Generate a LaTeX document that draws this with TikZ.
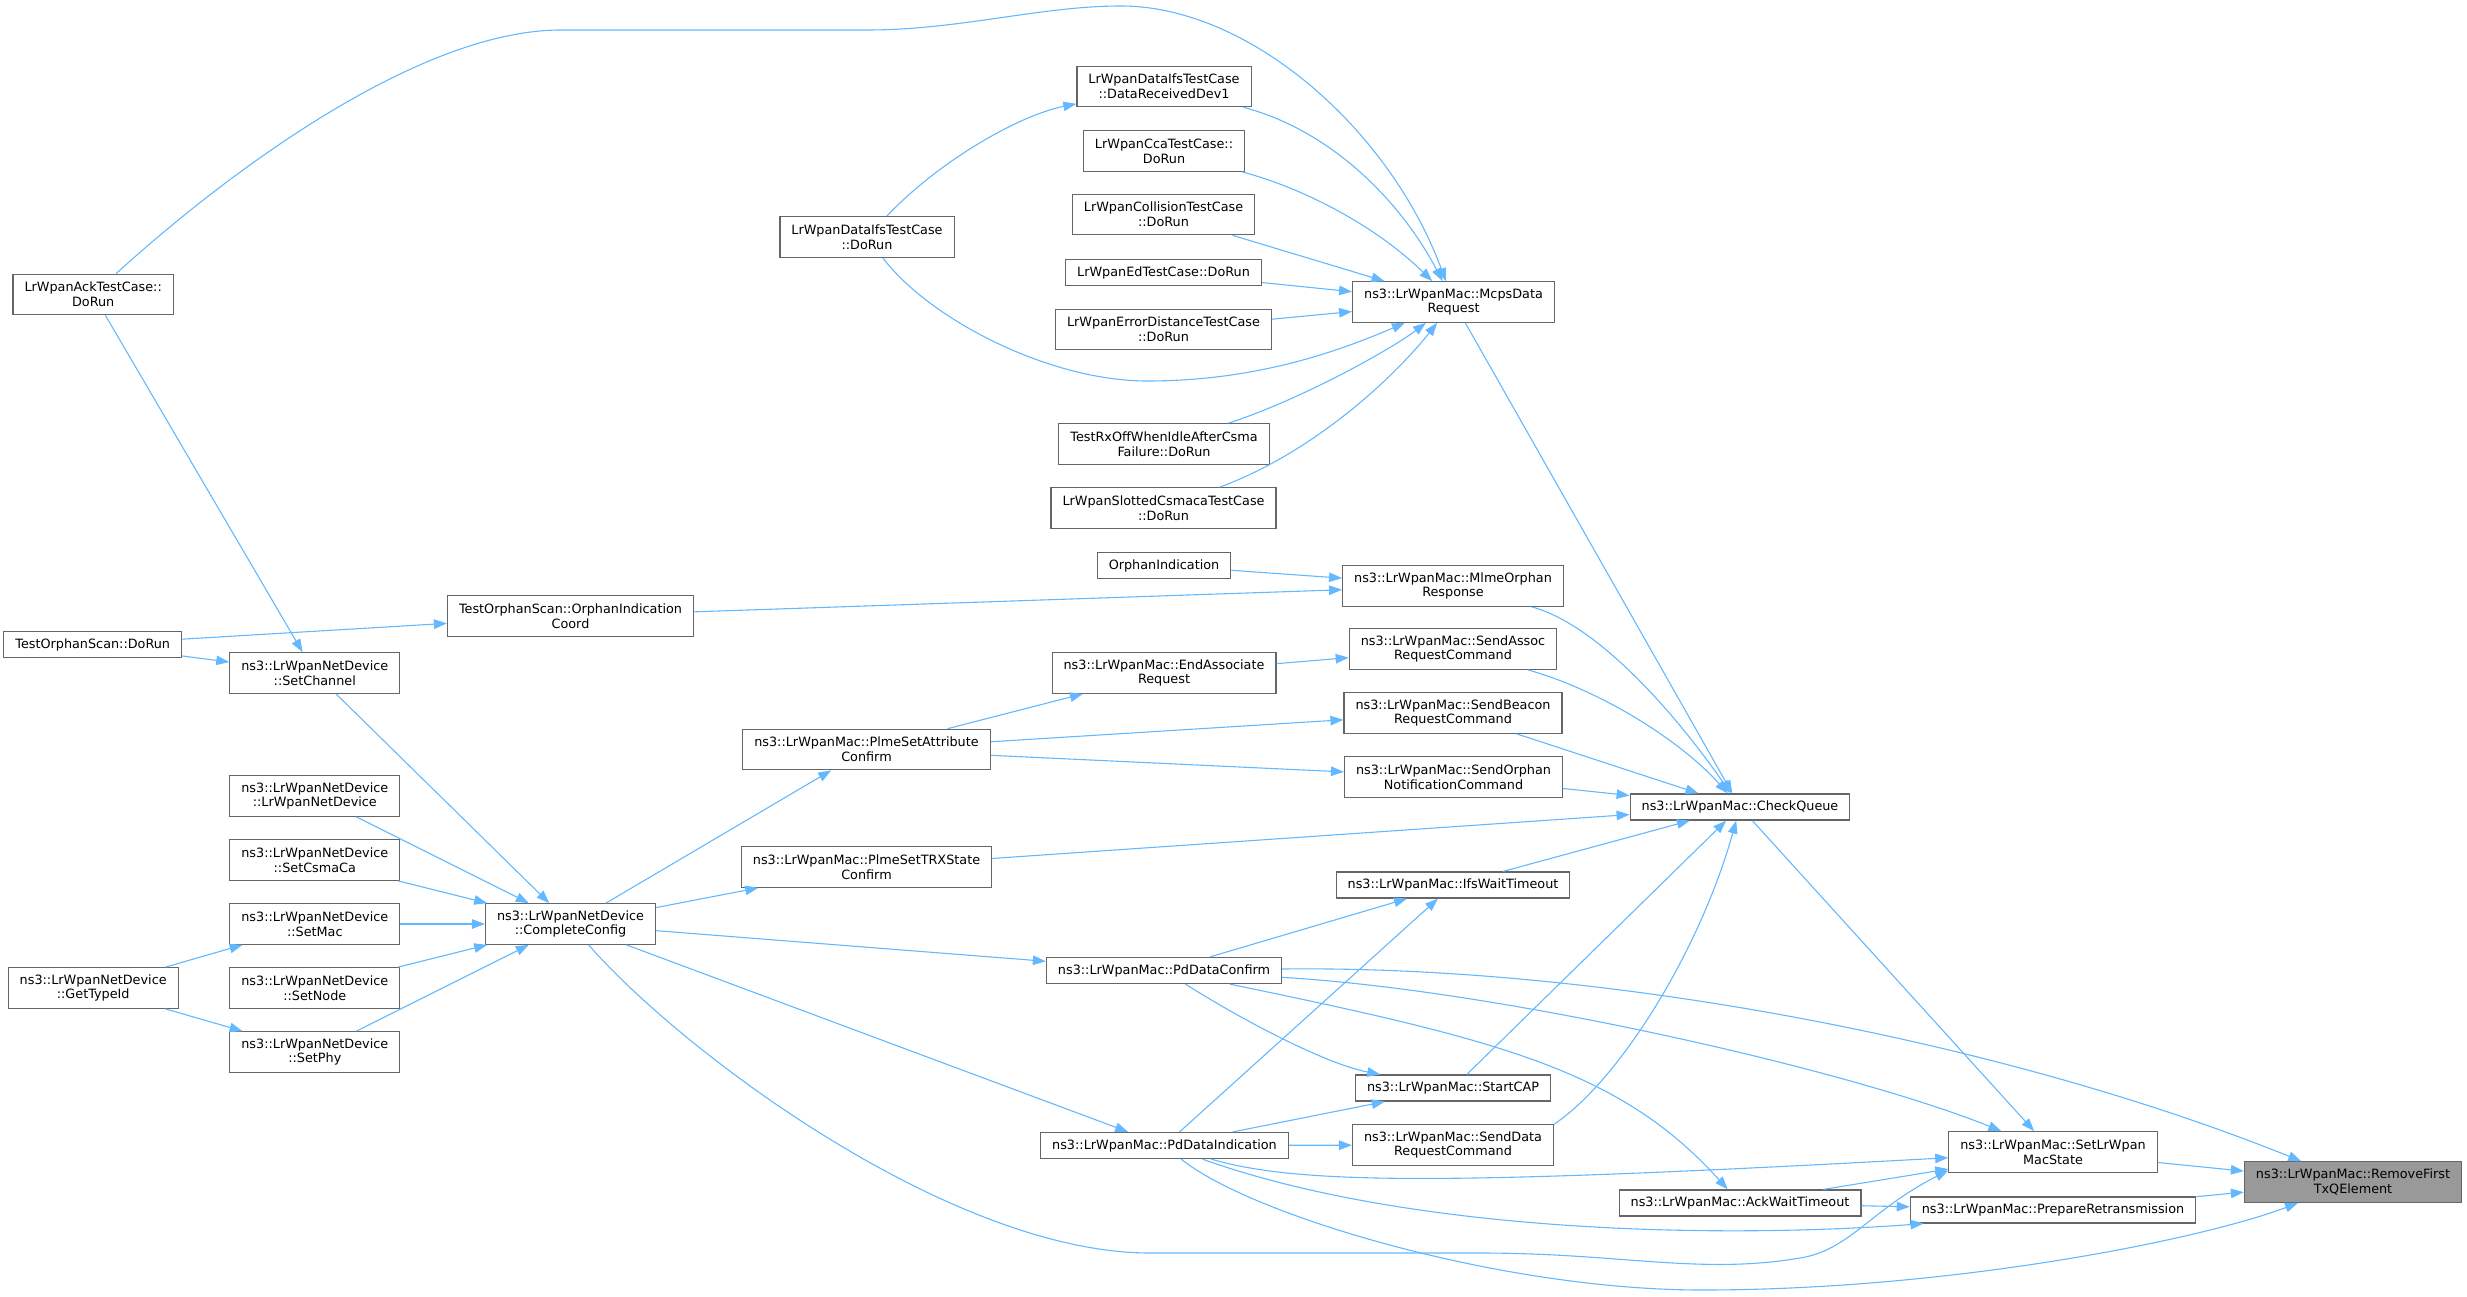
\documentclass[tikz,border=0pt]{standalone}
\usepackage{fontspec}
\setmainfont{DejaVu Sans}
\usetikzlibrary{arrows.meta}
\definecolor{edgeblue}{HTML}{63B8FF}
\definecolor{boxline}{HTML}{666666}
\definecolor{rootfill}{HTML}{999999}
\begin{document}
\begin{tikzpicture}[x=1pt,y=-1pt]
\tikzstyle{every node}+=[font=\fontsize{12.8}{14.7}\selectfont]
\tikzstyle{fn}=[draw=boxline, fill=white, line width=1.2pt, inner xsep=11.5pt, inner ysep=2pt, minimum height=26pt, align=center]
\tikzstyle{fn2}=[fn, minimum height=40.5pt]
\tikzstyle{root}=[fn2, fill=rootfill]
\tikzstyle{callarrow}=[draw=edgeblue, line width=1.1pt, -{Triangle[length=13pt,width=9.5pt]}]
\useasboundingbox (0,0) rectangle (2467,1297);
\node[fn2] (ackrun) at (93.2,294.5) {LrWpanAckTestCase::\\DoRun};
\node[fn2] (ifsrun) at (867,237) {LrWpanDataIfsTestCase\\::DoRun};
\node[fn2] (orcoord) at (570.5,616) {TestOrphanScan::OrphanIndication\\Coord};
\node[fn] (orrun) at (92.7,644.5) {TestOrphanScan::DoRun};
\node[fn2] (setchan) at (314.8,673) {ns3::LrWpanNetDevice\\::SetChannel};
\node[fn2] (devctor) at (314.8,796) {ns3::LrWpanNetDevice\\::LrWpanNetDevice};
\node[fn2] (setcsma) at (314.8,860) {ns3::LrWpanNetDevice\\::SetCsmaCa};
\node[fn2] (setmac) at (314.8,924) {ns3::LrWpanNetDevice\\::SetMac};
\node[fn2] (setnode) at (314.8,988) {ns3::LrWpanNetDevice\\::SetNode};
\node[fn2] (setphy) at (314.8,1052) {ns3::LrWpanNetDevice\\::SetPhy};
\node[fn2] (typeid) at (93.2,988) {ns3::LrWpanNetDevice\\::GetTypeId};
\node[fn2] (cc) at (570.5,924) {ns3::LrWpanNetDevice\\::CompleteConfig};
\node[fn2] (psattr) at (866.5,749.5) {ns3::LrWpanMac::PlmeSetAttribute\\Confirm};
\node[fn2] (pstrx) at (866.5,867) {ns3::LrWpanMac::PlmeSetTRXState\\Confirm};
\node[fn2] (dev1) at (1164,86.5) {LrWpanDataIfsTestCase\\::DataReceivedDev1};
\node[fn2] (ccarun) at (1164,151) {LrWpanCcaTestCase::\\DoRun};
\node[fn2] (collrun) at (1163.5,214.5) {LrWpanCollisionTestCase\\::DoRun};
\node[fn] (edrun) at (1163.5,272.5) {LrWpanEdTestCase::DoRun};
\node[fn2] (errrun) at (1163.5,329.5) {LrWpanErrorDistanceTestCase\\::DoRun};
\node[fn2] (mdr) at (1453.5,302) {ns3::LrWpanMac::McpsData\\Request};
\node[fn2] (rxoff) at (1164,444) {TestRxOffWhenIdleAfterCsma\\Failure::DoRun};
\node[fn2] (slotrun) at (1163.5,508) {LrWpanSlottedCsmacaTestCase\\::DoRun};
\node[fn] (orind) at (1164,565.5) {OrphanIndication};
\node[fn2] (mor) at (1453,586) {ns3::LrWpanMac::MlmeOrphan\\Response};
\node[fn2] (sassoc) at (1453,649) {ns3::LrWpanMac::SendAssoc\\RequestCommand};
\node[fn2] (endassoc) at (1164,673) {ns3::LrWpanMac::EndAssociate\\Request};
\node[fn2] (sbeacon) at (1453,713) {ns3::LrWpanMac::SendBeacon\\RequestCommand};
\node[fn2] (sorphan) at (1453.5,777) {ns3::LrWpanMac::SendOrphan\\NotificationCommand};
\node[fn] (cq) at (1740,807) {ns3::LrWpanMac::CheckQueue};
\node[fn] (ifs) at (1453,885) {ns3::LrWpanMac::IfsWaitTimeout};
\node[fn] (pdc) at (1164,970.5) {ns3::LrWpanMac::PdDataConfirm};
\node[fn] (cap) at (1453,1088) {ns3::LrWpanMac::StartCAP};
\node[fn] (pdi) at (1164.5,1145.5) {ns3::LrWpanMac::PdDataIndication};
\node[fn2] (sdata) at (1453,1145) {ns3::LrWpanMac::SendData\\RequestCommand};
\node[fn] (ackwait) at (1740,1203) {ns3::LrWpanMac::AckWaitTimeout};
\node[fn2] (sls) at (2053,1152) {ns3::LrWpanMac::SetLrWpan\\MacState};
\node[fn] (prep) at (2053,1210) {ns3::LrWpanMac::PrepareRetransmission};
\node[root] (rm) at (2353,1182) {ns3::LrWpanMac::RemoveFirst\\TxQElement};
\draw[callarrow] (ackrun) .. controls (230,170) and (420,30) .. (561,30) -- (867,30) .. controls (960,30) and (1040,6) .. (1121,6) .. controls (1250,6) and (1390,130) .. (mdr);
\draw[callarrow] (ackrun) -- (setchan);
\draw[callarrow] (ifsrun) .. controls (940,160) and (1020,115) .. (dev1);
\draw[callarrow] (ifsrun) .. controls (930,320) and (1050,381) .. (1147,381) .. controls (1250,381) and (1330,355) .. (mdr);
\draw[callarrow] (dev1) .. controls (1330,130) and (1400,200) .. (mdr);
\draw[callarrow] (ccarun) .. controls (1310,190) and (1380,230) .. (mdr);
\draw[callarrow] (collrun) -- (mdr);
\draw[callarrow] (edrun) -- (mdr);
\draw[callarrow] (errrun) -- (mdr);
\draw[callarrow] (rxoff) .. controls (1300,400) and (1390,350) .. (mdr);
\draw[callarrow] (slotrun) .. controls (1320,450) and (1400,370) .. (mdr);
\draw[callarrow] (mdr) -- (cq);
\draw[callarrow] (orind) -- (mor);
\draw[callarrow] (orcoord) -- (mor);
\draw[callarrow] (orrun) -- (orcoord);
\draw[callarrow] (orrun) -- (setchan);
\draw[callarrow] (setchan) -- (cc);
\draw[callarrow] (devctor) -- (cc);
\draw[callarrow] (setcsma) -- (cc);
\draw[callarrow] (setmac) -- (cc);
\draw[callarrow] (setnode) -- (cc);
\draw[callarrow] (setphy) -- (cc);
\draw[callarrow] (typeid) -- (setmac);
\draw[callarrow] (typeid) -- (setphy);
\draw[callarrow] (cc) -- (psattr);
\draw[callarrow] (cc) -- (pstrx);
\draw[callarrow] (cc) -- (pdc);
\draw[callarrow] (cc) -- (pdi);
\draw[callarrow] (cc) .. controls (680,1050) and (950,1253) .. (1150,1253) -- (1480,1253) .. controls (1620,1253) and (1700,1275) .. (1800,1258) .. controls (1850,1250) and (1870,1210) .. (sls.190);
\draw[callarrow] (psattr) -- (endassoc);
\draw[callarrow] (psattr) -- (sbeacon);
\draw[callarrow] (psattr) -- (sorphan);
\draw[callarrow] (endassoc) -- (sassoc);
\draw[callarrow] (mor) .. controls (1600,625) and (1680,720) .. (cq);
\draw[callarrow] (sassoc) .. controls (1600,690) and (1680,740) .. (cq);
\draw[callarrow] (sbeacon) -- (cq);
\draw[callarrow] (sorphan) -- (cq);
\draw[callarrow] (pstrx) -- (cq);
\draw[callarrow] (ifs) -- (cq);
\draw[callarrow] (cap) -- (cq);
\draw[callarrow] (sdata.north east) .. controls (1620,1080) and (1700,950) .. (cq);
\draw[callarrow] (pdc) -- (ifs);
\draw[callarrow] (pdi) -- (ifs);
\draw[callarrow] (pdc) .. controls (1250,1025) and (1330,1065) .. (cap);
\draw[callarrow] (pdi) -- (cap);
\draw[callarrow] (pdi) -- (sdata);
\draw[callarrow] (pdc) .. controls (1500,1040) and (1620,1070) .. (ackwait);
\draw[callarrow] (pdc) .. controls (1500,990) and (1850,1070) .. (sls);
\draw[callarrow] (pdc) .. controls (1600,965) and (2000,1040) .. (rm);
\draw[callarrow] (pdi) .. controls (1300,1185) and (1450,1185) .. (sls);
\draw[callarrow] (pdi) .. controls (1400,1230) and (1700,1240) .. (prep.186.7);
\draw[callarrow] (pdi) .. controls (1250,1215) and (1500,1290) .. (1702,1290) .. controls (1950,1290) and (2200,1240) .. (rm);
\draw[callarrow] (ackwait) -- (sls);
\draw[callarrow] (ackwait) -- (prep);
\draw[callarrow] (cq) -- (sls);
\draw[callarrow] (sls) -- (rm);
\draw[callarrow] (prep) -- (rm);
\end{tikzpicture}
\end{document}
